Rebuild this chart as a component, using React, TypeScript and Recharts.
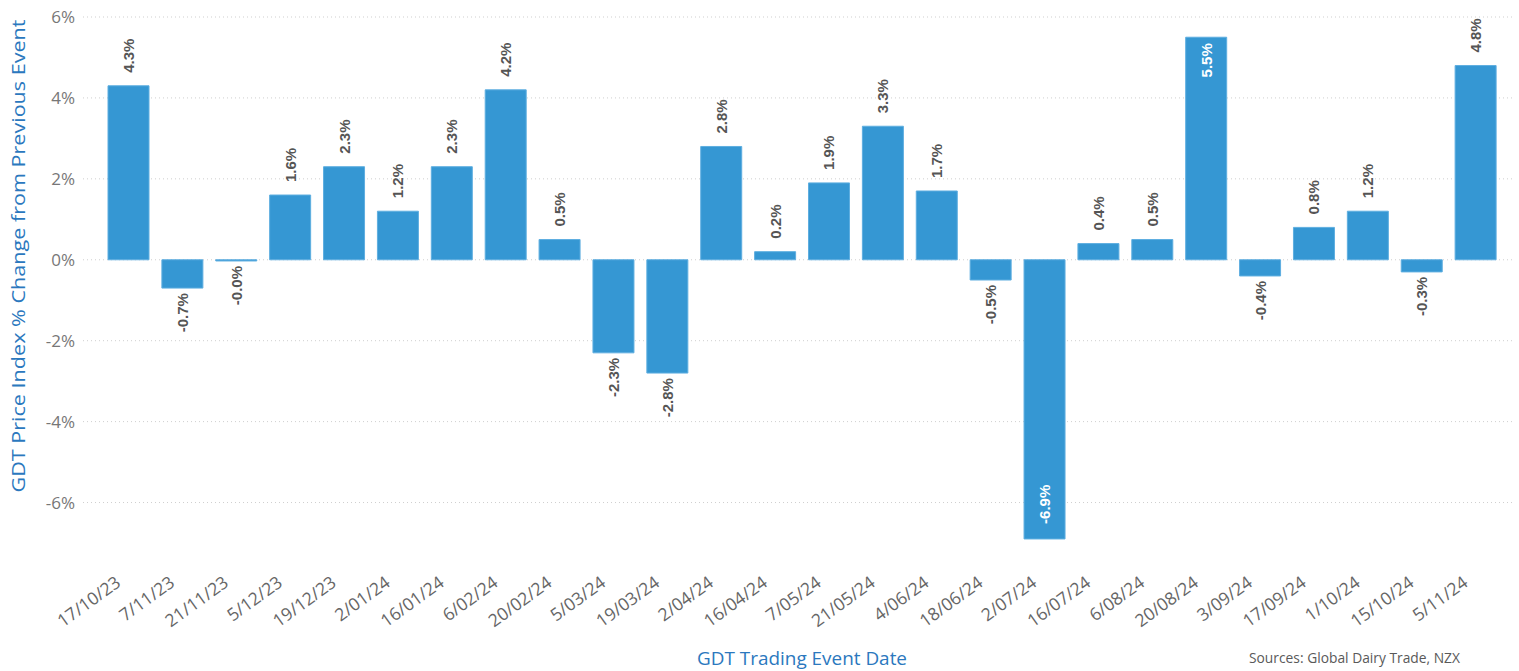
import { BarChart, Bar, XAxis, YAxis, CartesianGrid, LabelList } from 'recharts';

const dates = [
  '17/10/23', '7/11/23', '21/11/23', '5/12/23', '19/12/23', '2/01/24', '16/01/24', '6/02/24',
  '20/02/24', '5/03/24', '19/03/24', '2/04/24', '16/04/24', '7/05/24', '21/05/24', '4/06/24',
  '18/06/24', '2/07/24', '16/07/24', '6/08/24', '20/08/24', '3/09/24', '17/09/24', '1/10/24',
  '15/10/24', '5/11/24',
];

const changes = [
  4.3, -0.7, -0.03, 1.6, 2.3, 1.2, 2.3, 4.2,
  0.5, -2.3, -2.8, 2.8, 0.2, 1.9, 3.3, 1.7,
  -0.5, -6.9, 0.4, 0.5, 5.5, -0.4, 0.8, 1.2,
  -0.3, 4.8,
];

const yTicks = [-6, -4, -2, 0, 2, 4, 6];

const data = dates.map((d, i) => ({ date: d, change: changes[i] }));

const W = 1519;
const H = 671;
const BLUE = '#3597d3';
const TITLE = '#2b78be';

const fmt = (v: number) => `${v.toFixed(1)}%`;

// rotated date labels, anchored at the end just under the bar
const XTick = ({ x, y, payload }: any) => {
  const ax = x - 7;
  return (
    <text
      x={ax}
      y={y}
      textAnchor="end"
      fill="#666"
      fontSize={17.5}
      fontFamily="'Open Sans', sans-serif"
      transform={`rotate(-36, ${ax}, ${y})`}
    >
      {payload.value}
    </text>
  );
};

// value labels: outside the bar end, or inside for the two big moves
const BarLabel = ({ x, y, width, height, value }: any) => {
  const v = Number(value);
  const cx = x + width / 2;
  const top = Math.min(y, y + height);
  const bottom = Math.max(y, y + height);
  const inside = Math.abs(v) >= 5;
  let ly: number;
  let anchor: 'start' | 'end';
  if (v >= 0) {
    if (inside) { ly = top + 6; anchor = 'end'; } else { ly = top - 13; anchor = 'start'; }
  } else {
    if (inside) { ly = bottom - 15; anchor = 'start'; } else { ly = bottom + 5; anchor = 'end'; }
  }
  return (
    <text
      x={cx}
      y={ly}
      textAnchor={anchor}
      dominantBaseline="central"
      fill={inside ? '#fff' : '#555'}
      fontSize={15}
      fontWeight={700}
      fontFamily="'Liberation Sans', Arial, sans-serif"
      transform={`rotate(-90, ${cx}, ${ly})`}
    >
      {fmt(v)}
    </text>
  );
};

export default function App() {
  return (
    <div style={{ position: 'absolute', left: 0, top: 0, width: W, height: H, background: '#fff' }}>
      <BarChart width={W} height={H} data={data} margin={{ top: 17, right: 4, bottom: 27, left: 0 }}>
        <CartesianGrid vertical={false} horizontalValues={yTicks} stroke="#cfcfcf" strokeDasharray="1 3" />
        <XAxis
          dataKey="date"
          axisLine={false}
          tickLine={false}
          tickSize={0}
          tickMargin={42}
          height={101}
          interval={0}
          padding={{ left: 19, right: 12 }}
          tick={<XTick />}
        />
        <YAxis
          domain={[-7, 6]}
          ticks={yTicks}
          width={83}
          axisLine={false}
          tickLine={false}
          tickSize={0}
          tickMargin={8}
          tickFormatter={(v: number) => `${v}%`}
          tick={{ fill: '#777', fontSize: 17, fontFamily: "'Open Sans', sans-serif" }}
        />
        <Bar dataKey="change" fill={BLUE} stroke="#5eaee0" strokeWidth={1} barSize={41} isAnimationActive={false}>
          <LabelList dataKey="change" content={<BarLabel />} />
        </Bar>
      </BarChart>
      <svg width={W} height={H} style={{ position: 'absolute', left: 0, top: 0, pointerEvents: 'none' }}>
        <text
          x={18}
          y={256}
          textAnchor="middle"
          dominantBaseline="central"
          fill={TITLE}
          fontSize={19}
          fontFamily="'Open Sans', sans-serif"
          textLength={473}
          lengthAdjust="spacingAndGlyphs"
          transform="rotate(-90, 18, 256)"
        >
          GDT Price Index % Change from Previous Event
        </text>
        <text
          x={802}
          y={665}
          textAnchor="middle"
          fill={TITLE}
          fontSize={19}
          fontFamily="'Open Sans', sans-serif"
          textLength={210}
          lengthAdjust="spacingAndGlyphs"
        >
          GDT Trading Event Date
        </text>
        <text
          x={1249}
          y={663}
          fill="#595959"
          fontSize={15}
          fontFamily="'Open Sans', sans-serif"
          textLength={211}
          lengthAdjust="spacingAndGlyphs"
        >
          Sources: Global Dairy Trade, NZX
        </text>
      </svg>
    </div>
  );
}
